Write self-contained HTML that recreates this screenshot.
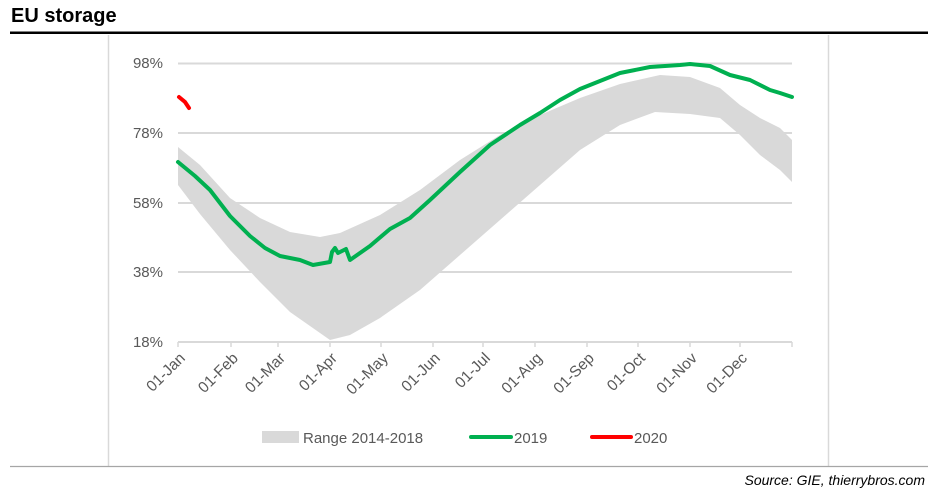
<!DOCTYPE html>
<html><head><meta charset="utf-8"><style>
body{margin:0;background:#fff;}
svg{display:block;font-family:"Liberation Sans",Calibri,sans-serif;}
</style></head><body>
<svg width="945" height="494" viewBox="0 0 945 494" xmlns="http://www.w3.org/2000/svg">
<text x="11" y="22" font-size="20" font-weight="bold" fill="#000">EU storage</text>
<rect x="10" y="31.5" width="918" height="2.5" fill="#000"/>
<line x1="108.5" y1="35" x2="108.5" y2="466" stroke="#d9d9d9" stroke-width="1.5"/>
<line x1="828.5" y1="35" x2="828.5" y2="466" stroke="#d9d9d9" stroke-width="1.5"/>
<line x1="10" y1="466.5" x2="928" y2="466.5" stroke="#a6a6a6" stroke-width="1.2"/>
<text x="925" y="485" font-size="14" font-style="italic" text-anchor="end" fill="#000">Source: GIE, thierrybros.com</text>
<g stroke="#d9d9d9" stroke-width="2">
<line x1="178" y1="63.5" x2="792" y2="63.5"/>
<line x1="178" y1="133" x2="792" y2="133"/>
<line x1="178" y1="203" x2="792" y2="203"/>
<line x1="178" y1="272" x2="792" y2="272"/>
</g>
<g font-size="15" fill="#595959" text-anchor="end">
<text x="163" y="68">98%</text>
<text x="163" y="138">78%</text>
<text x="163" y="208">58%</text>
<text x="163" y="277">38%</text>
<text x="163" y="347">18%</text>
</g>
<polygon fill="#d9d9d9" points="178,147 200,165 230,198 260,218 290,232 320,237 340,233 380,215 420,190 460,160 500,135 540,115 580,98 620,84 660,75 690,77 720,88 740,105 760,118 780,128 792,140 792,182 780,170 760,155 740,135 720,118 690,114 655,112 620,125 580,150 540,185 500,220 460,255 420,290 380,318 350,335 330,340 310,326 290,312 260,282 230,250 200,214 178,185"/>
<line x1="178" y1="342" x2="792" y2="342" stroke="#d9d9d9" stroke-width="2"/>
<g stroke="#d9d9d9" stroke-width="1.5">
<line x1="178" y1="342" x2="178" y2="347"/><line x1="231" y1="342" x2="231" y2="347"/><line x1="278" y1="342" x2="278" y2="347"/><line x1="330" y1="342" x2="330" y2="347"/><line x1="381" y1="342" x2="381" y2="347"/><line x1="433" y1="342" x2="433" y2="347"/><line x1="483" y1="342" x2="483" y2="347"/><line x1="535" y1="342" x2="535" y2="347"/><line x1="587" y1="342" x2="587" y2="347"/><line x1="638" y1="342" x2="638" y2="347"/><line x1="690" y1="342" x2="690" y2="347"/><line x1="740" y1="342" x2="740" y2="347"/><line x1="792" y1="342" x2="792" y2="347"/>
</g>
<g font-size="15.5" fill="#595959" text-anchor="end">
<text transform="translate(186,359) rotate(-45)">01-Jan</text>
<text transform="translate(239,359) rotate(-45)">01-Feb</text>
<text transform="translate(286,359) rotate(-45)">01-Mar</text>
<text transform="translate(338,359) rotate(-45)">01-Apr</text>
<text transform="translate(389,359) rotate(-45)">01-May</text>
<text transform="translate(441,359) rotate(-45)">01-Jun</text>
<text transform="translate(491,359) rotate(-45)">01-Jul</text>
<text transform="translate(543,359) rotate(-45)">01-Aug</text>
<text transform="translate(595,359) rotate(-45)">01-Sep</text>
<text transform="translate(646,359) rotate(-45)">01-Oct</text>
<text transform="translate(698,359) rotate(-45)">01-Nov</text>
<text transform="translate(748,359) rotate(-45)">01-Dec</text>
</g>
<polyline fill="none" stroke="#00b050" stroke-width="4" stroke-linejoin="round" stroke-linecap="round" points="178,162 195,176 210,190 230,216 250,236 265,248 280,256 300,260 313,265 330,262 332,252 335,248 338,253 346,249 350,260 370,246 390,229 410,218 430,200 460,172 490,145 520,125 540,113 560,100 580,89 600,81 620,73 650,67 680,65 690,64 710,66 730,75 750,80 770,90 780,93 792,97"/>
<polyline fill="none" stroke="#ff0000" stroke-width="4" stroke-linecap="round" points="179,97 185,102 189,108"/>
<rect x="262" y="431" width="37" height="12" fill="#d9d9d9"/>
<text x="303" y="443" font-size="15" fill="#595959">Range 2014-2018</text>
<line x1="471" y1="437" x2="511" y2="437" stroke="#00b050" stroke-width="4" stroke-linecap="round"/>
<text x="514" y="443" font-size="15" fill="#595959">2019</text>
<line x1="592" y1="437" x2="631" y2="437" stroke="#ff0000" stroke-width="4" stroke-linecap="round"/>
<text x="634" y="443" font-size="15" fill="#595959">2020</text>
</svg>
</body></html>
